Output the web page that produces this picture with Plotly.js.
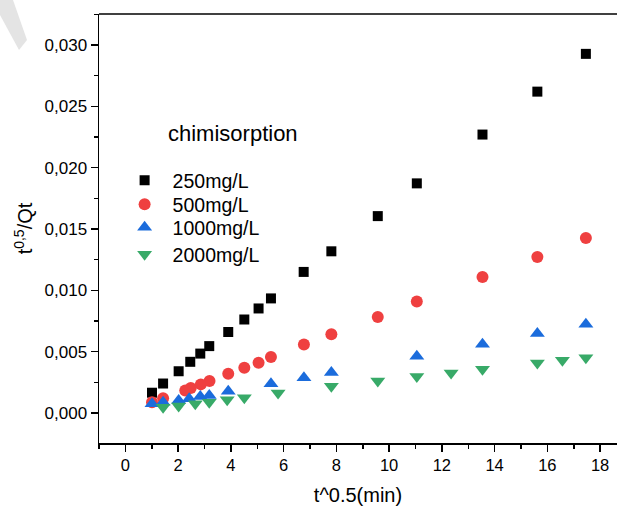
<!DOCTYPE html>
<html>
<head>
<meta charset="utf-8">
<script src="https://cdn.plot.ly/plotly-3.0.1.min.js"></script>
<style>html,body{margin:0;padding:0;background:#fff;}#chart{width:617px;height:512px;}</style>
</head>
<body>
<div id="chart"></div>
<script>
// t^0.5 (min) values and t^0.5/Qt values (x 0.001)
const x250 = [1.01, 1.43, 2.02, 2.46, 2.84, 3.18, 3.90, 4.51, 5.05, 5.52, 6.76, 7.81, 9.57, 11.05, 13.54, 15.62, 17.46];
const y250 = [1.65, 2.40, 3.40, 4.17, 4.84, 5.45, 6.60, 7.62, 8.52, 9.34, 11.50, 13.18, 16.05, 18.72, 22.70, 26.20, 29.28];
const x500 = [1.01, 1.43, 2.27, 2.48, 2.86, 3.19, 3.90, 4.51, 5.05, 5.52, 6.77, 7.81, 9.57, 11.05, 13.54, 15.62, 17.46];
const y500 = [0.88, 1.20, 1.84, 2.03, 2.33, 2.60, 3.20, 3.69, 4.10, 4.56, 5.58, 6.42, 7.82, 9.08, 11.09, 12.72, 14.27];
const x1000 = [1.01, 1.43, 2.02, 2.42, 2.84, 3.18, 3.90, 5.52, 6.77, 7.81, 11.05, 13.54, 15.62, 17.46];
const y1000 = [0.75, 0.88, 1.02, 1.16, 1.35, 1.43, 1.76, 2.39, 2.88, 3.29, 4.62, 5.60, 6.47, 7.24];
const x2000 = [1.43, 2.02, 2.65, 3.18, 3.86, 4.51, 5.79, 7.81, 9.57, 11.05, 12.35, 13.54, 15.62, 16.57, 17.46];
const y2000 = [0.47, 0.56, 0.75, 0.88, 1.08, 1.24, 1.62, 2.17, 2.60, 2.98, 3.25, 3.56, 4.07, 4.29, 4.51];
const seriesNames = ['250mg/L', '500mg/L', '1000mg/L', '2000mg/L'];
const legendTitle = 'chimisorption';
const yTickVals = [0, 0.005, 0.010, 0.015, 0.020, 0.025, 0.030];

const scale = v => v.map(a => a / 1000);
const mk = (x, y, name, symbol, color, size, legendId) => ({
  type: 'scatter', mode: 'markers', x: x, y: scale(y), name: name, legend: legendId,
  marker: {symbol: symbol, color: color, size: size, line: {width: 0}}
});

const data = [
  mk(x250, y250, seriesNames[0], 'square', '#000000', 10, 'legend'),
  mk(x500, y500, seriesNames[1], 'circle', '#ef4040', 12, 'legend2'),
  mk(x1000, y1000, seriesNames[2], 'triangle-up', '#1b6cdc', 13, 'legend3'),
  mk(x2000, y2000, seriesNames[3], 'triangle-down', '#38aa68', 13, 'legend4')
];

const font = 'Arial, "Liberation Sans", sans-serif';
const legendBase = (yTop) => ({
  x: 0.034, y: yTop, xanchor: 'left', yanchor: 'top',
  bgcolor: 'rgba(0,0,0,0)', borderwidth: 0,
  itemwidth: 46,
  font: {family: font, size: 19.5, color: '#000'}
});

const layout = {
  width: 617, height: 512,
  margin: {l: 99, r: 0, t: 14, b: 69, pad: 0},
  paper_bgcolor: '#ffffff', plot_bgcolor: '#ffffff',
  separators: ', ',
  font: {family: font, color: '#000000', size: 16},
  showlegend: true,
  legend: legendBase(0.6573),
  legend2: legendBase(0.6014),
  legend3: legendBase(0.5478),
  legend4: legendBase(0.4848),
  annotations: [
    {text: legendTitle, xref: 'paper', yref: 'paper', x: 0.1293, y: 0.7226,
     xanchor: 'left', yanchor: 'middle', showarrow: false,
     font: {family: font, size: 22, color: '#000'}}
  ],
  xaxis: {
    range: [-1, 18.64], autorange: false,
    showline: true, linecolor: '#000', linewidth: 1.5, mirror: false,
    showgrid: false, zeroline: false,
    ticks: 'outside', ticklen: 7, tickwidth: 1.5, tickcolor: '#000',
    tick0: 0, dtick: 2,
    minor: {ticks: 'outside', ticklen: 4, tickwidth: 1.5, tickcolor: '#000', dtick: 1, tick0: 0, showgrid: false},
    tickfont: {family: font, size: 16.5, color: '#000'},
    title: {text: 't^0.5(min)', font: {family: font, size: 20, color: '#000'}, standoff: 14}
  },
  yaxis: {
    range: [-0.00245, 0.03253], autorange: false,
    showline: true, linecolor: '#000', linewidth: 1.5, mirror: false,
    showgrid: false, zeroline: false,
    ticks: 'outside', ticklen: 7, tickwidth: 1.5, tickcolor: '#000',
    tickvals: yTickVals, tickformat: '.3f',
    minor: {ticks: 'outside', ticklen: 4, tickwidth: 1.5, tickcolor: '#000', dtick: 0.005, tick0: 0.0025, showgrid: false},
    tickfont: {family: font, size: 17, color: '#000'},
    title: {text: 't<sup>0,5</sup>/Qt', font: {family: font, size: 20, color: '#000'}, standoff: 6}
  },
  shapes: [
    {type: 'line', xref: 'paper', yref: 'paper', x0: 0, x1: 1, y0: 1, y1: 1, line: {color: '#000', width: 1.5}},
    {type: 'path', xref: 'paper', yref: 'paper', layer: 'below', fillcolor: '#e4e4e4', line: {width: 0},
     path: 'M -0.1911,1.0326 L -0.1660,1.0326 L -0.1390,0.9394 L -0.1544,0.9161 L -0.1911,0.9977 Z'}
  ]
};

Plotly.newPlot('chart', data, layout, {staticPlot: true, displayModeBar: false});
</script>
</body>
</html>
